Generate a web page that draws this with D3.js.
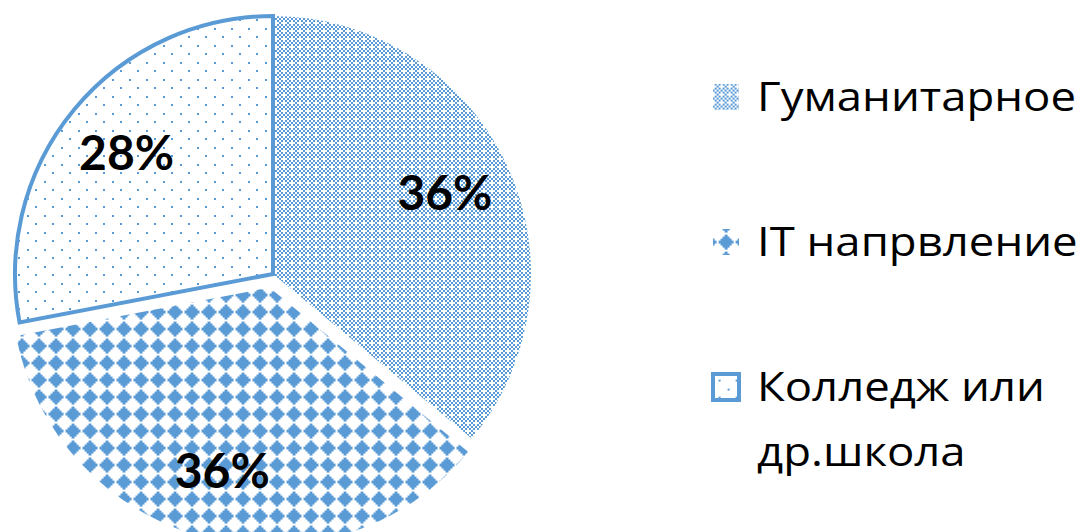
<!DOCTYPE html>
<html>
<head>
<meta charset="utf-8">
<script src="https://cdn.jsdelivr.net/npm/d3@7"></script>
<style>
  body { margin: 0; background: #fff; }
  svg { display: block; }
</style>
</head>
<body>
<svg id="chart" width="1085" height="532"></svg>
<script>
// chart data
var categories = ['Гуманитарное', 'IT напрвление', 'Колледж или др.школа'];
var legendLines = [['Гуманитарное'], ['IT напрвление'], ['Колледж или', 'др.школа']];
var values = [36, 36, 28];
var labels = ['36%', '36%', '28%'];

var blue = '#5B9BD5';
var svg = d3.select('#chart');
var defs = svg.append('defs');

// bit masks for the fills (office style patterns) with the size of one bit
var patterns = [
  // small checks with white crosses
  { cell: 2, rows: [
    '0101',
    '1010',
    '0001',
    '1010'] },
  // solid diamonds
  { cell: 2.125, rows: [
    '00010000',
    '00111000',
    '01111100',
    '11111110',
    '01111100',
    '00111000',
    '00010000',
    '00000000'] },
  // sparse dots
  { cell: 2.125, rows: [
    '10000000',
    '00000000',
    '00000000',
    '00000000',
    '00001000',
    '00000000',
    '00000000',
    '00000000'] }
];

/**
 * Builds one pattern from a bit mask.
 */
function bitPattern(id, pat, tx, ty) {
  var n = pat.rows.length;
  var p = defs.append('pattern')
    .attr('id', id)
    .attr('patternUnits', 'userSpaceOnUse')
    .attr('width', n)
    .attr('height', n)
    .attr('patternTransform', 'translate(' + tx + ',' + ty + ') scale(' + pat.cell + ')');
  p.append('rect')
    .attr('width', n).attr('height', n)
    .attr('fill', '#fff');
  pat.rows.forEach(function (row, y) {
    row.split('').forEach(function (c, x) {
      if (c === '1') {
        p.append('rect')
          .attr('x', x).attr('y', y)
          .attr('width', 1).attr('height', 1)
          .attr('fill', blue)
          .attr('shape-rendering', 'crispEdges');
      }
    });
  });
}

patterns.forEach(function (pat, i) {
  bitPattern('pat' + i, pat, 0, 0);
  // legend copy, shifted so a motif sits in the middle of the box
  bitPattern('leg' + i, pat, 5.6, -7.4);
});

var cx = 273, cy = 274, radius = 258;
var explode = [0, 14, 0];
var labelRadius = 190;

var pie = d3.pie()
  .sort(null)
  .value(function (d) { return d; });

var arc = d3.arc()
  .innerRadius(0)
  .outerRadius(radius);

var labelArc = d3.arc()
  .innerRadius(labelRadius)
  .outerRadius(labelRadius);

var arcs = pie(values);

var g = svg.append('g')
  .attr('transform', 'translate(' + cx + ',' + cy + ')');

function offset(d, i) {
  var a = (d.startAngle + d.endAngle) / 2;
  return [Math.sin(a) * explode[i], -Math.cos(a) * explode[i]];
}

// slices
g.selectAll('path.slice')
  .data(arcs)
  .enter()
  .append('path')
  .attr('class', 'slice')
  .attr('d', arc)
  .attr('transform', function (d, i) {
    var o = offset(d, i);
    return 'translate(' + o[0] + ',' + o[1] + ')';
  })
  .attr('fill', function (d, i) { return 'url(#pat' + i + ')'; })
  .attr('stroke', function (d, i) { return i === 2 ? blue : 'none'; })
  .attr('stroke-width', 4);

// percentage labels
g.selectAll('text.label')
  .data(arcs)
  .enter()
  .append('text')
  .attr('class', 'label')
  .attr('transform', function (d, i) {
    var c = labelArc.centroid(d);
    var o = offset(d, i);
    return 'translate(' + (c[0] + o[0]) + ',' + (c[1] + o[1]) + ')';
  })
  .attr('text-anchor', 'middle')
  .attr('dy', '0.35em')
  .style('font-family', 'Lato, "Noto Sans", sans-serif')
  .style('font-weight', 'bold')
  .style('font-size', '48px')
  .attr('fill', '#000')
  .text(function (d, i) { return labels[i]; });

// legend
var ly = d3.scalePoint()
  .domain(categories)
  .range([97, 387]);

var legend = svg.append('g')
  .selectAll('g.item')
  .data(categories)
  .enter()
  .append('g')
  .attr('class', 'item')
  .attr('transform', function (d) { return 'translate(713,' + ly(d) + ')'; });

legend.append('rect')
  .attr('y', -13)
  .attr('width', 26)
  .attr('height', 26)
  .attr('fill', function (d, i) { return 'url(#leg' + i + ')'; })
  .attr('stroke', function (d, i) { return i === 2 ? blue : 'none'; })
  .attr('stroke-width', 4);

// the original font runs wider, so stretch the text a little
legend.append('text')
  .attr('transform', 'translate(44,14) scale(1.11,1)')
  .style('font-family', '"Open Sans", "Noto Sans", sans-serif')
  .style('font-size', '41px')
  .attr('fill', '#000')
  .selectAll('tspan')
  .data(function (d, i) { return legendLines[i]; })
  .enter()
  .append('tspan')
  .attr('x', 0)
  .attr('dy', function (d, j) { return j === 0 ? 0 : 65; })
  .text(function (d) { return d; });
</script>
</body>
</html>
